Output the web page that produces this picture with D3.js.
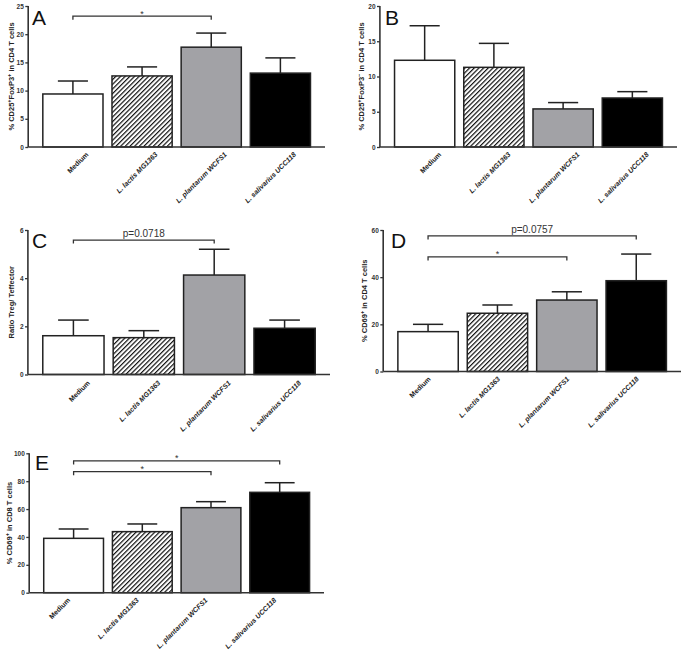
<!DOCTYPE html>
<html><head><meta charset="utf-8">
<script src="https://cdn.jsdelivr.net/npm/d3@7"></script>
<style>body{margin:0;background:#fff}svg{display:block}</style>
</head><body>
<svg id="c" width="686" height="651"></svg>
<script>
const categories = ["Medium", "L. lactis MG1363", "L. plantarum WCFS1", "L. salivarius UCC118"];
const italicCats = [false, true, true, true];
const fills = ["#ffffff", "url(#hatch)", "#a2a2a6", "#000000"];

const A_mean = [9.4, 12.6, 17.7, 13.1];
const A_sem  = [2.3, 1.6, 2.5, 2.7];
const A_ticks = [0, 5, 10, 15, 20, 25];

const B_mean = [12.3, 11.3, 5.4, 6.95];
const B_sem  = [4.9, 3.4, 0.9, 0.9];
const B_ticks = [0, 5, 10, 15, 20];

const C_mean = [1.61, 1.53, 4.13, 1.92];
const C_sem  = [0.65, 0.29, 1.07, 0.34];
const C_ticks = [0, 2, 4, 6];

const D_mean = [16.9, 24.7, 30.3, 38.5];
const D_sem  = [3.1, 3.5, 3.5, 11.3];
const D_ticks = [0, 20, 40, 60];

const E_mean = [39.0, 43.8, 61.0, 72.0];
const E_sem  = [6.7, 5.5, 4.3, 6.9];
const E_ticks = [0, 20, 40, 60, 80, 100];

const svg = d3.select("#c");
const defs = svg.append("defs");
const pat = defs.append("pattern").attr("id","hatch").attr("width",3.3).attr("height",3.3)
  .attr("patternUnits","userSpaceOnUse").attr("patternTransform","rotate(45)");
pat.append("rect").attr("width",3.3).attr("height",3.3).attr("fill","#fff");
pat.append("line").attr("x1",0.6).attr("y1",0).attr("x2",0.6).attr("y2",3.3)
  .attr("stroke","#111").attr("stroke-width",1.2);

const FONT = "'Liberation Sans', Arial, sans-serif";

function panel(cfg) {
  const g = svg.append("g");
  const x = d3.scaleBand().domain(categories).range([cfg.x0, cfg.x1])
    .paddingInner(0.13).paddingOuter(0.21);
  const y = d3.scaleLinear().domain([0, cfg.max]).range([cfg.yb, cfg.yt]);

  // y axis
  const ax = g.append("g").attr("transform", `translate(${cfg.x0},0)`)
    .call(d3.axisLeft(y).tickValues(cfg.ticks).tickFormat(d3.format("d")).tickSize(3).tickPadding(1.5));
  ax.select(".domain").attr("stroke","#333").attr("stroke-width",1.6)
    .attr("d", `M-0.1,${cfg.yt}V${cfg.yb}`);
  ax.selectAll(".tick line").attr("stroke","#333").attr("stroke-width",1.3);
  ax.selectAll(".tick text").attr("font-family",FONT).attr("font-size",6.5)
    .attr("font-weight","bold").attr("fill","#333");

  // bars
  g.selectAll("rect.bar").data(cfg.mean).join("rect")
    .attr("x",(d,i)=>x(categories[i])).attr("width",x.bandwidth())
    .attr("y",d=>y(d)).attr("height",d=>y(0)-y(d))
    .attr("fill",(d,i)=>fills[i]).attr("stroke","#222").attr("stroke-width",1.5);

  // error bars
  const capW = x.bandwidth()*0.5;
  cfg.mean.forEach((m,i)=>{
    const cx = x(categories[i]) + x.bandwidth()/2;
    const top = y(m + cfg.sem[i]);
    g.append("line").attr("x1",cx).attr("x2",cx).attr("y1",y(m)).attr("y2",top)
      .attr("stroke","#222").attr("stroke-width",1.5);
    g.append("line").attr("x1",cx-capW/2).attr("x2",cx+capW/2).attr("y1",top).attr("y2",top)
      .attr("stroke","#222").attr("stroke-width",1.5);
  });

  // x axis line
  g.append("line").attr("x1",cfg.x0).attr("x2",cfg.x1).attr("y1",cfg.yb).attr("y2",cfg.yb)
    .attr("stroke","#333").attr("stroke-width",1.6);

  // x labels
  categories.forEach((c,i)=>{
    const cx = x(c) + x.bandwidth()/2 + cfg.ldx;
    const ly = cfg.yb + cfg.ldy;
    g.append("text").attr("transform",`translate(${cx},${ly}) rotate(-45)`)
      .attr("text-anchor","end").attr("font-family",FONT).attr("font-size",7)
      .attr("font-weight","bold").attr("font-style", italicCats[i] ? "italic":"normal")
      .attr("fill","#222").text(c);
  });

  // y label
  const yl = g.append("text")
    .attr("transform",`translate(${cfg.ylx},${(cfg.yb+cfg.yt)/2}) rotate(-90)`)
    .attr("text-anchor","middle").attr("font-family",FONT).attr("font-size",7.5)
    .attr("font-weight","bold").attr("fill","#222");
  cfg.ylabel.forEach(p=>{
    const t = yl.append("tspan").text(p[0]);
    if (p[1]) t.attr("font-size",5.5).attr("dy",-3);
    else if (p[2]) t.attr("dy",3);
  });

  // letter
  g.append("text").attr("x",cfg.lx).attr("y",cfg.ly).attr("font-family",FONT)
    .attr("font-size",21).attr("fill","#111").text(cfg.letter);

  // significance brackets
  (cfg.sig||[]).forEach(s=>{
    const xa = x(categories[s[0]]) + x.bandwidth()/2;
    const xb = x(categories[s[1]]) + x.bandwidth()/2;
    const yy = y(s[2]);
    g.append("path").attr("d",`M${xa},${yy+3.5}V${yy}H${xb}V${yy+3.5}`)
      .attr("fill","none").attr("stroke","#333").attr("stroke-width",1.3);
    const star = s[3] === "*";
    g.append("text").attr("x",(xa+xb)/2).attr("y", star ? yy+0.5 : yy-3)
      .attr("text-anchor","middle").attr("font-family",FONT)
      .attr("font-size", star ? 9 : 10).attr("fill","#333").text(s[3]);
  });
}

panel({x0:28.3, x1:325, yb:147, yt:6, max:25, ticks:A_ticks, mean:A_mean, sem:A_sem,
  ldx:16, ldy:8, ylx:14, letter:"A", lx:32, ly:25,
  ylabel:[["% CD25"],["+",1],["FoxP3",0,1],["+",1],[" in CD4 T cells",0,1]],
  sig:[[0,2,23.2,"*"]]});

panel({x0:380, x1:677, yb:147, yt:6, max:20, ticks:B_ticks, mean:B_mean, sem:B_sem,
  ldx:17, ldy:8, ylx:364, letter:"B", lx:385, ly:25,
  ylabel:[["% CD25"],["+",1],["FoxP3",0,1],["−",1],[" in CD4 T cells",0,1]]});

panel({x0:28, x1:330, yb:374.5, yt:230, max:6, ticks:C_ticks, mean:C_mean, sem:C_sem,
  ldx:17, ldy:9, ylx:14, letter:"C", lx:32, ly:248,
  ylabel:[["Ratio Treg/ Teffector"]],
  sig:[[0,2,5.58,"p=0.0718"]]});

panel({x0:383.3, x1:681, yb:371.5, yt:230, max:60, ticks:D_ticks, mean:D_mean, sem:D_sem,
  ldx:3, ldy:8, ylx:367, letter:"D", lx:391, ly:248,
  ylabel:[["% CD69"],["+",1],[" in CD4 T cells",0,1]],
  sig:[[0,3,57.5,"p=0.0757"],[0,2,48.6,"*"]]});

panel({x0:29.3, x1:324, yb:592.7, yt:453.3, max:100, ticks:E_ticks, mean:E_mean, sem:E_sem,
  ldx:-3, ldy:8, ylx:12, letter:"E", lx:35, ly:470,
  ylabel:[["% CD69"],["+",1],[" in CD8 T cells",0,1]],
  sig:[[0,3,94.5,"*"],[0,2,86.8,"*"]]});
</script>
</body></html>
